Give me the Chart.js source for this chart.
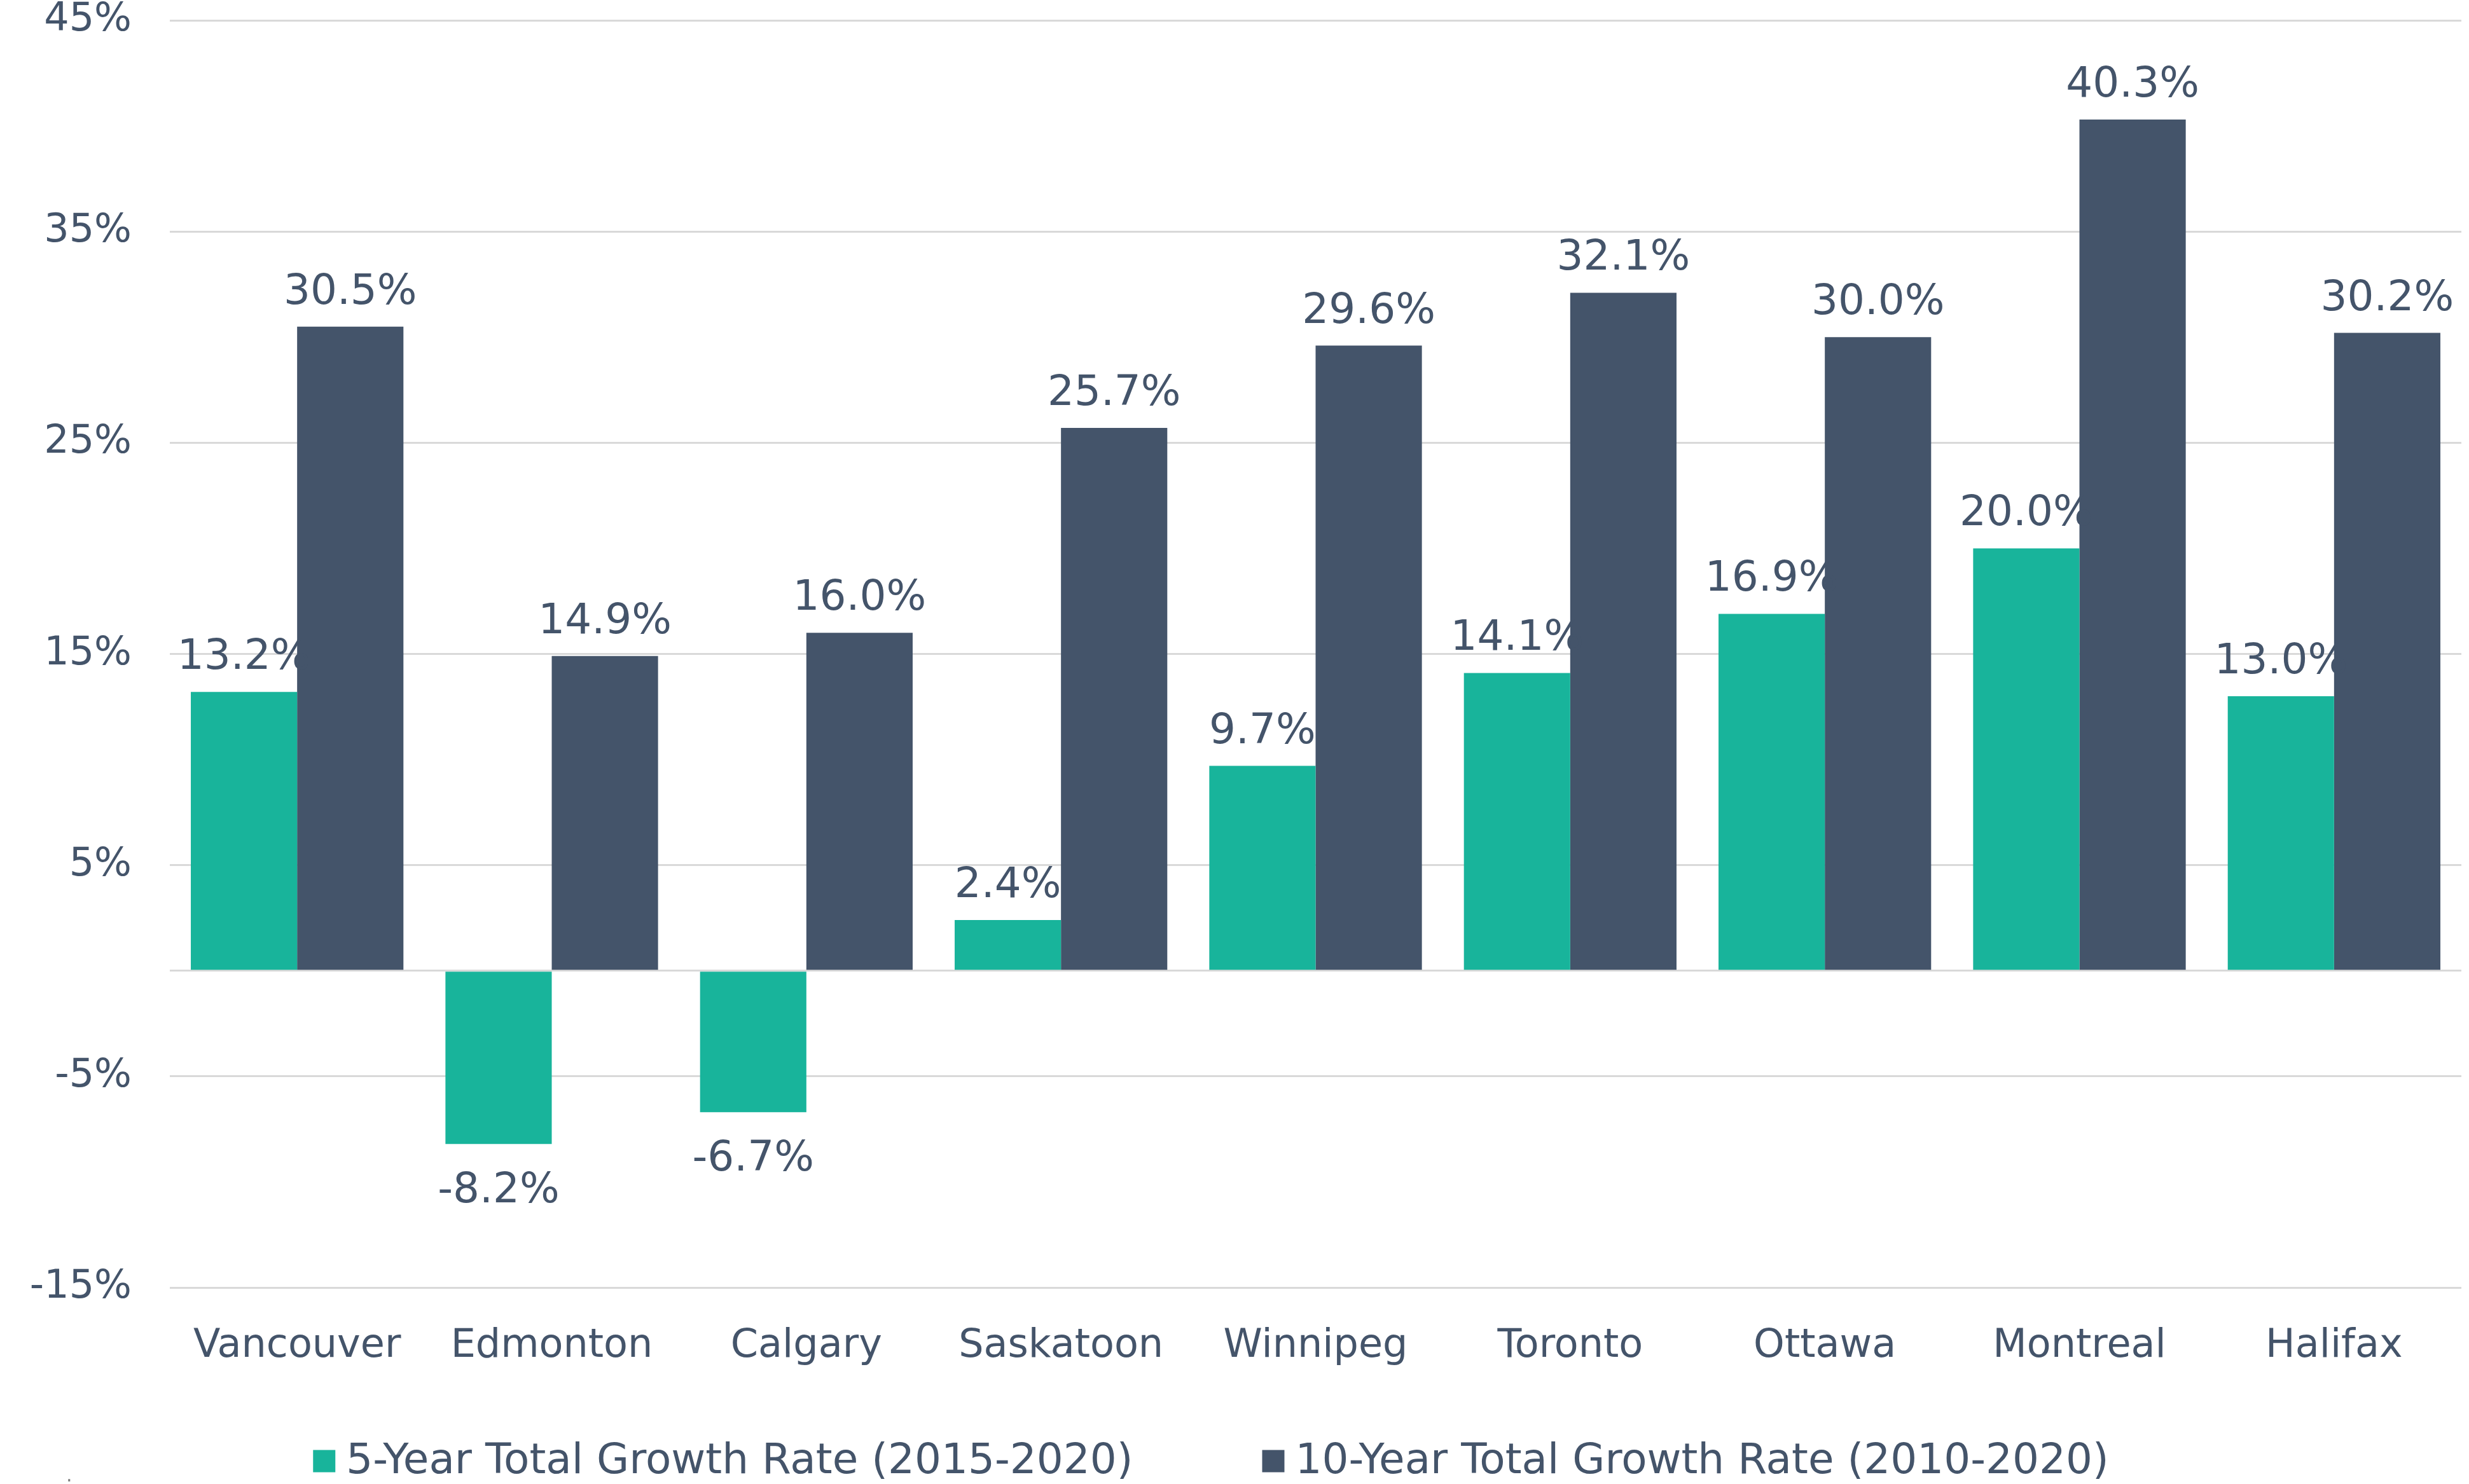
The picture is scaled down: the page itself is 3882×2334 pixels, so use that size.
<!DOCTYPE html>
<html>
<head>
<meta charset="utf-8">
<script src="https://cdn.jsdelivr.net/npm/chart.js@4.4.1/dist/chart.umd.min.js"></script>
<style>
html,body{margin:0;padding:0;background:#ffffff;overflow:hidden;}
canvas{display:block;}
</style>
</head>
<body>
<canvas id="c" width="3882" height="2334"></canvas>
<script>
// ---- data ----
const categories = ['Vancouver','Edmonton','Calgary','Saskatoon','Winnipeg','Toronto','Ottawa','Montreal','Halifax'];
const fiveYearGrowth = [13.2, -8.2, -6.7, 2.4, 9.7, 14.1, 16.9, 20.0, 13.0];
const tenYearGrowth = [30.5, 14.9, 16.0, 25.7, 29.6, 32.1, 30.0, 40.3, 30.2];
const seriesNames = ['5-Year Total Growth Rate (2015-2020)', '10-Year Total Growth Rate (2010-2020)'];
const yTickValues = [-15, -5, 0, 5, 15, 25, 35, 45];
const yTickLabels = ['-15%', '-5%', '', '5%', '15%', '25%', '35%', '45%'];
const footnote = '.';

// ---- styles ----
const TEXT = '#44546A';
const TEAL = '#18B49B';
const SLATE = '#44546A';
const GRID = '#D9D9D9';
const FONT = '"DejaVu Sans", Verdana, sans-serif';
const FS = 62;      // axis labels
const FS_LBL = 66;  // data labels and legend

Chart.defaults.font.family = FONT;
Chart.defaults.font.size = FS;
Chart.defaults.color = TEXT;

const valueLabels = {
  id: 'valueLabels',
  afterDatasetsDraw(chart) {
    const ctx = chart.ctx;
    ctx.save();
    ctx.font = FS_LBL + 'px ' + FONT;
    ctx.fillStyle = TEXT;
    ctx.textAlign = 'center';
    ctx.textBaseline = 'alphabetic';
    chart.data.datasets.forEach((ds, di) => {
      const meta = chart.getDatasetMeta(di);
      meta.data.forEach((bar, i) => {
        const v = ds.data[i];
        const y = v >= 0 ? bar.y - 36 : bar.y + 92;
        ctx.fillText(v.toFixed(1) + '%', bar.x, y);
      });
    });
    ctx.restore();
  }
};

const bottomLegend = {
  id: 'bottomLegend',
  afterDraw(chart) {
    const ctx = chart.ctx;
    ctx.save();
    ctx.font = FS_LBL + 'px ' + FONT;
    ctx.textBaseline = 'middle';
    ctx.textAlign = 'left';
    const box = 35, gapText = 17, gapItems = 203;
    const ds = chart.data.datasets;
    const widths = ds.map(d => ctx.measureText(d.label).width);
    let total = 0;
    widths.forEach((w, i) => { total += box + gapText + w + (i ? gapItems : 0); });
    let x = chart.width / 2 - 37 - total / 2;
    const yc = chart.height - 36;
    ds.forEach((d, i) => {
      ctx.fillStyle = d.backgroundColor;
      ctx.fillRect(x, yc - box / 2, box, box);
      ctx.fillStyle = TEXT;
      ctx.fillText(d.label, x + box + gapText, yc + 2);
      x += box + gapText + widths[i] + gapItems;
    });
    ctx.font = '30px ' + FONT;
    ctx.fillStyle = '#7F7F7F';
    ctx.fillText(footnote, 104, chart.height - 12);
    ctx.restore();
  }
};

new Chart(document.getElementById('c'), {
  type: 'bar',
  data: {
    labels: categories,
    datasets: [
      { label: seriesNames[0], data: fiveYearGrowth, backgroundColor: TEAL, borderWidth: 0,
        categoryPercentage: 0.835, barPercentage: 1.0 },
      { label: seriesNames[1], data: tenYearGrowth, backgroundColor: SLATE, borderWidth: 0,
        categoryPercentage: 0.835, barPercentage: 1.0 }
    ]
  },
  options: {
    responsive: false,
    devicePixelRatio: 1,
    animation: false,
    layout: { padding: { top: 32, right: 12, bottom: 0, left: 0 } },
    plugins: { legend: { display: false }, tooltip: { enabled: false } },
    scales: {
      x: {
        grid: { display: false, drawTicks: false },
        border: { display: false },
        ticks: { padding: 56, color: TEXT, font: { size: FS }, maxRotation: 0 },
        afterFit(scale) { scale.height = 309; scale.paddingLeft = 0; scale.paddingRight = 0; }
      },
      y: {
        min: -15,
        max: 45,
        afterBuildTicks(scale) { scale.ticks = yTickValues.map(v => ({ value: v })); },
        afterFit(scale) { scale.width = 267; scale.paddingTop = 0; scale.paddingBottom = 0; },
        grid: { color: GRID, lineWidth: 3, drawTicks: false },
        border: { display: false },
        ticks: {
          padding: 60,
          color: TEXT,
          font: { size: FS },
          callback(v) { const k = yTickValues.indexOf(v); return k >= 0 ? yTickLabels[k] : ''; }
        }
      }
    }
  },
  plugins: [valueLabels, bottomLegend]
});
</script>
</body>
</html>
